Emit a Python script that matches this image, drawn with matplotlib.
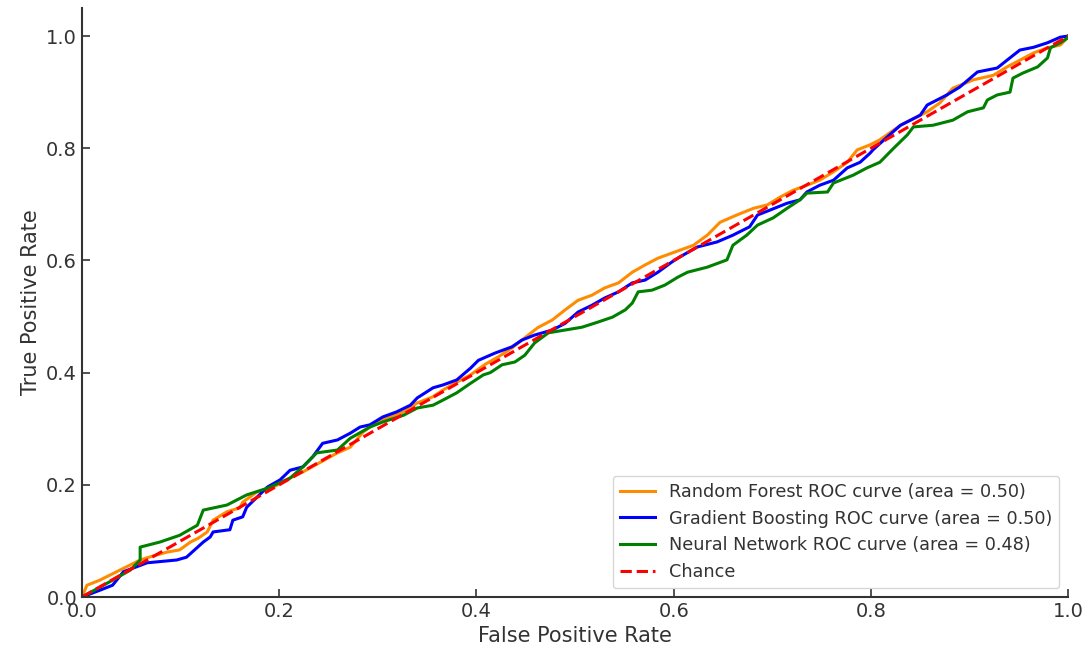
import matplotlib
matplotlib.use("Agg")
import matplotlib.pyplot as plt

# Random Forest ROC
rf_fpr = [0, .005, .018, .059, .066, .086, .099, .110, .118, .127, .133, .147, .160, .163, .177, .194,
          .211, .224, .259, .272, .285, .299, .312, .326, .340, .356, .366, .380, .394, .409,
          .422, .436, .449, .462, .477, .490, .503, .517, .530, .544, .558, .571, .584, .598,
          .620, .634, .647, .664, .681, .695, .708, .721, .735, .748, .762, .776, .786, .799,
          .809, .830, .857, .870, .883, .904, .924, .938, .951, .965, .979, .992, .997, 1.0]
rf_tpr = [0, .021, .030, .066, .070, .080, .084, .098, .105, .116, .137, .152, .159, .169, .187, .196,
          .212, .223, .257, .267, .294, .312, .321, .330, .346, .357, .369, .383, .396, .415,
          .428, .444, .462, .480, .494, .512, .529, .538, .551, .560, .579, .592, .604, .613,
          .627, .645, .668, .681, .693, .699, .713, .725, .734, .743, .758, .775, .797, .806,
          .815, .841, .865, .881, .907, .922, .930, .945, .957, .970, .979, .984, .993, 1.0]

# Gradient Boosting ROC
gb_fpr = [0, .018, .031, .042, .066, .096, .106, .123, .130, .133, .150, .153, .163, .167, .188, .201,
          .211, .224, .234, .244, .259, .272, .282, .292, .305, .319, .333, .340, .356, .366,
          .380, .394, .402, .419, .436, .446, .459, .477, .490, .503, .517, .530, .544, .558,
          .571, .584, .598, .606, .624, .644, .660, .677, .685, .698, .715, .728, .735, .748,
          .762, .776, .789, .799, .802, .819, .830, .850, .857, .877, .890, .908, .928, .938,
          .951, .965, .979, .992, 1.0]
gb_tpr = [0, .012, .021, .045, .061, .066, .071, .098, .107, .116, .120, .137, .143, .160, .196, .209,
          .226, .232, .250, .274, .280, .292, .303, .307, .321, .330, .342, .355, .373, .378,
          .387, .408, .422, .435, .446, .458, .467, .476, .488, .508, .520, .533, .544, .560,
          .565, .579, .597, .606, .624, .633, .645, .660, .681, .690, .702, .708, .722, .734,
          .743, .765, .775, .791, .797, .824, .841, .859, .877, .895, .909, .936, .943, .957,
          .975, .980, .988, .998, 1.0]

# Neural Network ROC
nn_fpr = [0, .031, .049, .059, .059, .079, .099, .117, .123, .147, .157, .167, .188, .211, .224, .238,
          .259, .272, .292, .305, .326, .340, .356, .366, .380, .394, .407, .414, .426, .439,
          .449, .459, .473, .490, .507, .523, .538, .551, .558, .564, .578, .591, .604, .614,
          .634, .654, .660, .674, .685, .701, .715, .728, .735, .756, .762, .782, .796, .809,
          .823, .837, .843, .863, .883, .898, .914, .918, .928, .941, .944, .954, .969, .979,
          .982, .992, .999, 1.0]
nn_tpr = [0, .030, .048, .066, .089, .098, .110, .128, .155, .164, .173, .182, .194, .212, .232, .257,
          .262, .283, .303, .312, .324, .337, .342, .351, .364, .381, .396, .400, .414, .419,
          .431, .453, .471, .476, .481, .490, .499, .512, .524, .544, .547, .556, .570, .579,
          .588, .601, .627, .645, .663, .676, .693, .708, .720, .722, .738, .752, .765, .775,
          .800, .824, .838, .841, .850, .865, .872, .886, .895, .900, .925, .934, .945, .961,
          .979, .988, .996, 1.0]

labels = ["Random Forest ROC curve (area = 0.50)",
          "Gradient Boosting ROC curve (area = 0.50)",
          "Neural Network ROC curve (area = 0.48)",
          "Chance"]
colors = ["darkorange", "blue", "green", "red"]

fig = plt.figure(figsize=(10.9, 6.55), dpi=100)
ax = fig.add_axes([0.0752, 0.0885, 0.9048, 0.8993])

ax.plot(rf_fpr, rf_tpr, color=colors[0], lw=2.2, label=labels[0])
ax.plot(gb_fpr, gb_tpr, color=colors[1], lw=2.2, label=labels[1])
ax.plot(nn_fpr, nn_tpr, color=colors[2], lw=2.2, label=labels[2])
ax.plot([0, 1], [0, 1], color=colors[3], lw=2.2, linestyle="--", label=labels[3])

ax.set_xlim(0.0, 1.0)
ax.set_ylim(0.0, 1.05)
ax.set_xticks([0.0, 0.2, 0.4, 0.6, 0.8, 1.0])
ax.set_yticks([0.0, 0.2, 0.4, 0.6, 0.8, 1.0])
ax.set_xlabel("False Positive Rate", fontsize=15, color="#333333")
ax.set_ylabel("True Positive Rate", fontsize=15, color="#333333")
ax.tick_params(direction="in", length=6, width=1.2, labelsize=14, colors="#333333")
for s in ["top", "right"]:
    ax.spines[s].set_visible(False)
for s in ["left", "bottom"]:
    ax.spines[s].set_linewidth(1.5)
    ax.spines[s].set_color("#333333")

leg = ax.legend(loc="lower right", fontsize=12.7)
for t in leg.get_texts():
    t.set_color("#333333")

fig.savefig("out.png", dpi=100)
